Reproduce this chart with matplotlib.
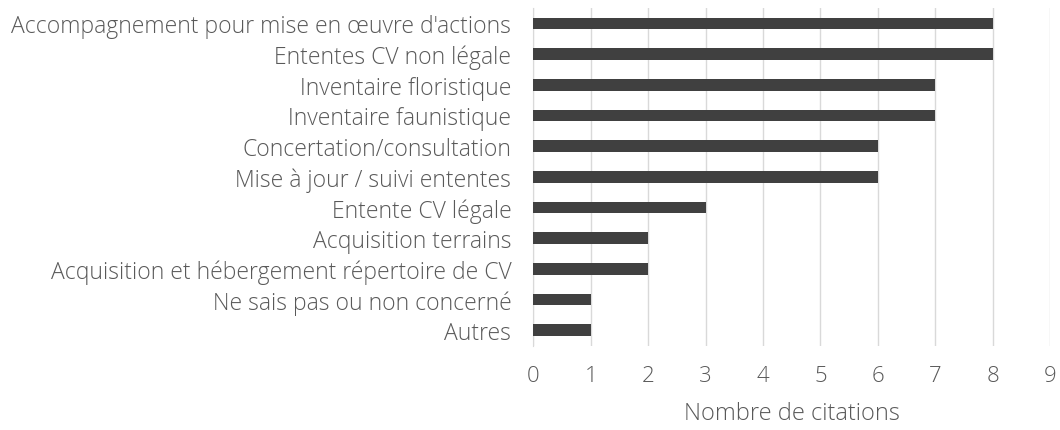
import matplotlib
matplotlib.use("Agg")
import matplotlib.pyplot as plt

categories = [
    "Accompagnement pour mise en œuvre d'actions",
    "Ententes CV non légale",
    "Inventaire floristique",
    "Inventaire faunistique",
    "Concertation/consultation",
    "Mise à jour / suivi ententes",
    "Entente CV légale",
    "Acquisition terrains",
    "Acquisition et hébergement répertoire de CV",
    "Ne sais pas ou non concerné",
    "Autres",
]
values = [8, 8, 7, 7, 6, 6, 3, 2, 2, 1, 1]
xticks = list(range(0, 10))

plt.rcParams['font.family'] = ['Open Sans', 'DejaVu Sans']
plt.rcParams['font.weight'] = 'light'
text_color = "#595959"

fig = plt.figure(figsize=(10.6, 4.31), dpi=100)
ax = fig.add_axes([0.5033, 0.196, 0.4873, 0.783])

ypos = list(range(len(categories)))
ax.barh(ypos, values, height=0.375, color="#404040", zorder=3)
ax.set_yticks(ypos)
ax.set_yticklabels(categories, fontsize=16.5, color=text_color, fontweight='light')
ax.set_ylim(10.5, -0.5)
ax.set_xlim(0, 9)
ax.set_xticks(xticks)
ax.set_xticklabels([str(t) for t in xticks], fontsize=16, color=text_color, fontweight='light')
ax.grid(axis='x', color="#d9d9d9", linewidth=1, zorder=0)
for s in ['top', 'right', 'bottom']:
    ax.spines[s].set_visible(False)
ax.spines['left'].set_color("#d9d9d9")
ax.tick_params(axis='both', length=0)
ax.tick_params(axis='y', pad=16)
ax.tick_params(axis='x', pad=14)
ax.set_xlabel("Nombre de citations", fontsize=17, color=text_color, labelpad=11, fontweight='light')

fig.savefig("out.png", dpi=100)
